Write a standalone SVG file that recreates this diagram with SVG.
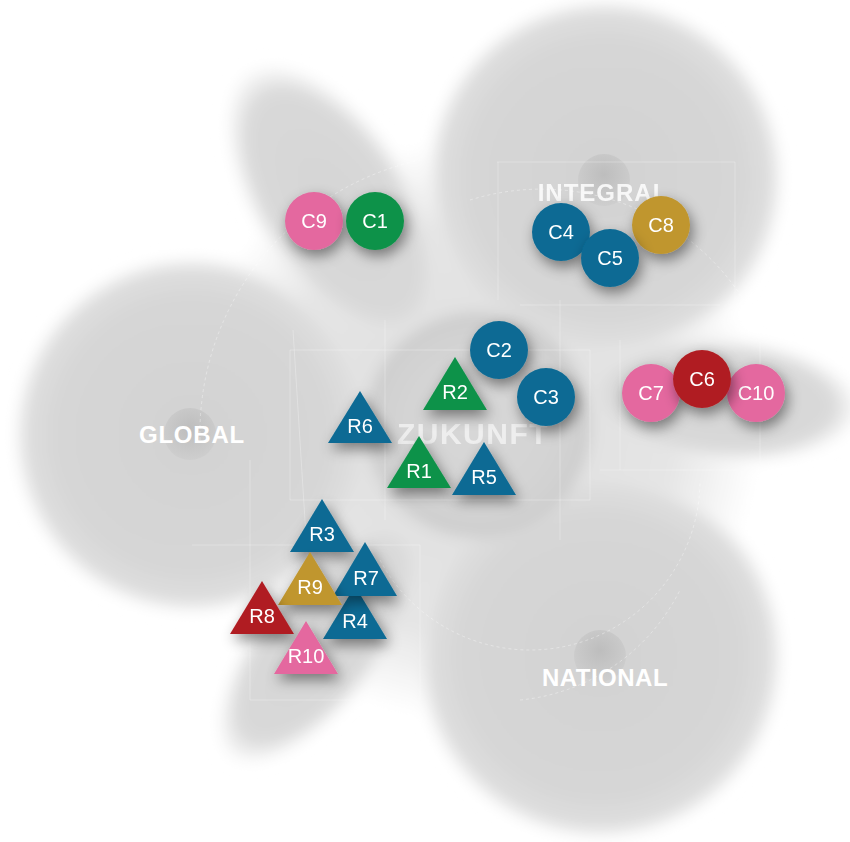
<svg xmlns="http://www.w3.org/2000/svg" width="850" height="842" viewBox="0 0 850 842">
<defs>
<radialGradient id="gBig" cx="50%" cy="50%" r="50%">
<stop offset="0" stop-color="#d2d2d2"/>
<stop offset="0.75" stop-color="#d6d6d6"/>
<stop offset="0.93" stop-color="#dedede"/>
<stop offset="1" stop-color="#ffffff"/>
</radialGradient>
<radialGradient id="gEll" cx="50%" cy="50%" r="50%">
<stop offset="0" stop-color="#d5d5d5"/>
<stop offset="0.8" stop-color="#d9d9d9"/>
<stop offset="1" stop-color="#ffffff"/>
</radialGradient>
<radialGradient id="gHalo" cx="50%" cy="50%" r="50%">
<stop offset="0" stop-color="#dddddd"/>
<stop offset="0.7" stop-color="#e5e5e5"/>
<stop offset="1" stop-color="#ffffff"/>
</radialGradient>
<radialGradient id="gZuk" cx="50%" cy="50%" r="50%">
<stop offset="0" stop-color="#d8d8d8"/>
<stop offset="0.85" stop-color="#d2d2d2"/>
<stop offset="1" stop-color="#cacaca"/>
</radialGradient>
<radialGradient id="gDot" cx="50%" cy="40%" r="60%">
<stop offset="0" stop-color="#b8b8b8"/>
<stop offset="1" stop-color="#cdcdcd"/>
</radialGradient>
<filter id="soft" x="-20%" y="-20%" width="140%" height="140%">
<feGaussianBlur stdDeviation="7"/>
</filter>
<filter id="sh" x="-50%" y="-50%" width="200%" height="200%">
<feDropShadow dx="3" dy="6" stdDeviation="7" flood-color="#000" flood-opacity="0.45"/>
</filter>
</defs>
<style>
.blob{mix-blend-mode:darken}
.grid{fill:none;stroke:#ffffff;stroke-width:0.8;opacity:0.35}
.arc{fill:none;stroke:#ffffff;stroke-width:0.8;stroke-dasharray:3 3;opacity:0.45}
.area{font-family:"Liberation Sans",Arial,sans-serif;font-weight:bold;fill:#ffffff;text-anchor:middle}
.lbl{font-family:"Liberation Sans",Arial,sans-serif;fill:#ffffff;text-anchor:middle;font-size:20px}
.blue{fill:#0a6a94}.green{fill:#0c9248}.pink{fill:#e4689f}.gold{fill:#c0962e}.red{fill:#b01f24}
</style>
<rect width="850" height="842" fill="#ffffff"/>
<g id="background" filter="url(#soft)">
<circle class="blob" cx="470" cy="430" r="290" fill="url(#gHalo)"/>
<circle class="blob" cx="192" cy="435" r="178" fill="url(#gBig)"/>
<circle class="blob" cx="605" cy="178" r="178" fill="url(#gBig)"/>
<circle class="blob" cx="600" cy="656" r="183" fill="url(#gBig)"/>
<ellipse class="blob" cx="335" cy="205" rx="160" ry="78" transform="rotate(57 335 205)" fill="url(#gEll)"/>
<ellipse class="blob" cx="720" cy="400" rx="140" ry="62" transform="rotate(4 720 400)" fill="url(#gEll)"/>
<ellipse class="blob" cx="322" cy="640" rx="150" ry="62" transform="rotate(-52 322 640)" fill="url(#gEll)"/>
<circle class="blob" cx="478" cy="425" r="112" fill="url(#gZuk)"/>
</g>
<g id="centers">
<circle cx="190" cy="434" r="26" fill="url(#gDot)" opacity="0.8"/>
<circle cx="604" cy="180" r="26" fill="url(#gDot)" opacity="0.8"/>
<circle cx="600" cy="656" r="26" fill="url(#gDot)" opacity="0.8"/>
</g>
<g id="guides">
<path class="grid" d="M497 162 H735 V330 M520 305 H720 M498 162 V300"/>
<path class="grid" d="M290 350 H590 V500 H290 Z M385 320 V520 M560 300 V540"/>
<path class="grid" d="M192 545 H420 V700 H250 M250 460 V700"/>
<path class="grid" d="M620 340 V470 M760 330 V470 M600 470 H770"/>
<path class="arc" d="M200 440 A 280 280 0 0 1 420 160"/>
<path class="arc" d="M470 200 A 240 240 0 0 1 760 330"/>
<path class="arc" d="M380 560 A 170 170 0 0 0 700 480"/>
<path class="arc" d="M520 700 A 200 200 0 0 0 680 590"/>
<line class="grid" x1="293" y1="330" x2="310" y2="600"/>
</g>
<g id="area-labels">
<text class="area" x="192" y="443" font-size="24" letter-spacing="0.8">GLOBAL</text>
<text class="area" x="603" y="201" font-size="24" letter-spacing="1" opacity="0.85">INTEGRAL</text>
<text class="area" x="473" y="444" font-size="30" letter-spacing="1.5" opacity="0.6">ZUKUNFT</text>
<text class="area" x="605" y="686" font-size="24" letter-spacing="0.5">NATIONAL</text>
</g>
<g id="connectors"></g>
<g id="C9" filter="url(#sh)"><circle class="pink" cx="314" cy="221" r="29"/><text class="lbl" x="314" y="228">C9</text></g>
<g id="C1" filter="url(#sh)"><circle class="green" cx="375" cy="221" r="29"/><text class="lbl" x="375" y="228">C1</text></g>
<g id="C4" filter="url(#sh)"><circle class="blue" cx="561" cy="232" r="29"/><text class="lbl" x="561" y="239">C4</text></g>
<g id="C8" filter="url(#sh)"><circle class="gold" cx="661" cy="225" r="29"/><text class="lbl" x="661" y="232">C8</text></g>
<g id="C5" filter="url(#sh)"><circle class="blue" cx="610" cy="258" r="29"/><text class="lbl" x="610" y="265">C5</text></g>
<g id="C2" filter="url(#sh)"><circle class="blue" cx="499" cy="350" r="29"/><text class="lbl" x="499" y="357">C2</text></g>
<g id="C3" filter="url(#sh)"><circle class="blue" cx="546" cy="397" r="29"/><text class="lbl" x="546" y="404">C3</text></g>
<g id="C7" filter="url(#sh)"><circle class="pink" cx="651" cy="393" r="29"/><text class="lbl" x="651" y="400">C7</text></g>
<g id="C10" filter="url(#sh)"><circle class="pink" cx="756" cy="393" r="29"/><text class="lbl" x="756" y="400">C10</text></g>
<g id="C6" filter="url(#sh)"><circle class="red" cx="702" cy="379" r="29"/><text class="lbl" x="702" y="386">C6</text></g>
<g id="R2" filter="url(#sh)"><polygon class="green" points="455,357 487,410 423,410"/><text class="lbl" x="455" y="399" font-size="19">R2</text></g>
<g id="R6" filter="url(#sh)"><polygon class="blue" points="360,391 392,443 328,443"/><text class="lbl" x="360" y="433" font-size="19">R6</text></g>
<g id="R1" filter="url(#sh)"><polygon class="green" points="419,436 451,488 387,488"/><text class="lbl" x="419" y="478" font-size="19">R1</text></g>
<g id="R5" filter="url(#sh)"><polygon class="blue" points="484,442 516,495 452,495"/><text class="lbl" x="484" y="484" font-size="19">R5</text></g>
<g id="R3" filter="url(#sh)"><polygon class="blue" points="322,499 354,552 290,552"/><text class="lbl" x="322" y="541" font-size="19">R3</text></g>
<g id="R4" filter="url(#sh)"><polygon class="blue" points="355,586 387,639 323,639"/><text class="lbl" x="355" y="628" font-size="19">R4</text></g>
<g id="R7" filter="url(#sh)"><polygon class="blue" points="365,542 397,596 333,596"/><text class="lbl" x="366" y="585" font-size="19">R7</text></g>
<g id="R9" filter="url(#sh)"><polygon class="gold" points="310,552 342,605 278,605"/><text class="lbl" x="310" y="594" font-size="19">R9</text></g>
<g id="R8" filter="url(#sh)"><polygon class="red" points="262,581 294,634 230,634"/><text class="lbl" x="262" y="623" font-size="19">R8</text></g>
<g id="R10" filter="url(#sh)"><polygon class="pink" points="306,621 338,674 274,674"/><text class="lbl" x="306" y="663" font-size="19">R10</text></g>
</svg>
